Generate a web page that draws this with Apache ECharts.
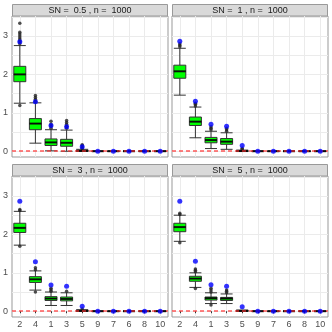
<!DOCTYPE html>
<html>
<head>
<meta charset="utf-8">
<script src="https://cdn.jsdelivr.net/npm/echarts@6/dist/echarts.min.js"></script>
<style>
  html, body { margin: 0; padding: 0; background: #fff; }
  #chart { width: 332px; height: 332px; }
</style>
</head>
<body>
<div id="chart"></div>
<script>
// categories (x order as in the plot)
const categories = ['2', '4', '1', '3', '5', '9', '7', '6', '8', '10']
const panelTitles = [
  'SN =  0.5 , n =  1000',
  'SN =  1 , n =  1000',
  'SN =  3 , n =  1000',
  'SN =  5 , n =  1000'
]
const yLabels = [0, 1, 2, 3]
const yGridValues = [0, 0.5, 1, 1.5, 2, 2.5, 3, 3.5]

// boxes: [lower whisker, Q1, median, Q3, upper whisker]
const boxesSN05 = [
  [1.25, 1.81, 2.0, 2.21, 2.75], [0.21, 0.56, 0.72, 0.85, 1.26], [0.01, 0.15, 0.23, 0.32, 0.56],
  [0.0, 0.13, 0.22, 0.31, 0.55], [0, 0, 0.01, 0.02, 0.05], [0, 0, 0, 0, 0], [0, 0, 0, 0, 0],
  [0, 0, 0, 0, 0], [0, 0, 0, 0, 0], [0, 0, 0, 0, 0]
]
const boxesSN1 = [
  [1.46, 1.9, 2.08, 2.24, 2.68], [0.35, 0.67, 0.77, 0.89, 1.15], [0.07, 0.22, 0.29, 0.36, 0.52],
  [0.05, 0.18, 0.25, 0.33, 0.48], [0, 0, 0.005, 0.01, 0.03], [0, 0, 0, 0, 0], [0, 0, 0, 0, 0],
  [0, 0, 0, 0, 0], [0, 0, 0, 0, 0], [0, 0, 0, 0, 0]
]
const boxesSN3 = [
  [1.72, 2.05, 2.17, 2.29, 2.6], [0.55, 0.75, 0.83, 0.9, 1.05], [0.15, 0.28, 0.33, 0.38, 0.5],
  [0.15, 0.27, 0.32, 0.37, 0.48], [0, 0, 0.01, 0.02, 0.04], [0, 0, 0, 0, 0], [0, 0, 0, 0, 0],
  [0, 0, 0, 0, 0], [0, 0, 0, 0, 0], [0, 0, 0, 0, 0]
]
const boxesSN5 = [
  [1.82, 2.07, 2.19, 2.29, 2.5], [0.62, 0.78, 0.85, 0.91, 1.0], [0.2, 0.29, 0.34, 0.37, 0.48],
  [0.2, 0.28, 0.33, 0.36, 0.45], [0, 0, 0.01, 0.02, 0.03], [0, 0, 0, 0, 0], [0, 0, 0, 0, 0],
  [0, 0, 0, 0, 0], [0, 0, 0, 0, 0], [0, 0, 0, 0, 0]
]

// outliers per category (same order as categories)
const outliersSN05 = [
  [1.19, 2.8, 2.85, 2.9, 2.95, 3.0, 3.05, 3.1, 3.33], [1.3, 1.35, 1.4, 1.45], [0.6, 0.65, 0.7, 0.78],
  [0.6, 0.65, 0.7, 0.75, 0.8], [0.07, 0.1, 0.14, 0.17], [], [], [], [], []
]
const outliersSN1 = [
  [2.72, 2.76, 2.8], [1.18, 1.22, 1.25], [0.56, 0.6, 0.64], [0.52, 0.56, 0.6], [0.05, 0.08],
  [], [], [], [], []
]
const outliersSN3 = [
  [1.69, 2.62, 2.65], [0.5, 1.08, 1.13], [0.52, 0.56, 0.6], [0.52], [0.06], [], [], [], [], []
]
const outliersSN5 = [
  [1.78, 2.52, 2.55], [0.59, 1.03, 1.07, 1.1], [0.16, 0.5, 0.55, 0.6], [0.48, 0.52, 0.55], [],
  [], [], [], [], []
]

// blue points
const blueSN05 = [2.85, 1.29, 0.67, 0.64, 0.12, 0, 0, 0, 0, 0]
const blueSN1 = [2.86, 1.3, 0.7, 0.65, 0.15, 0, 0, 0, 0, 0]
const blueSN3 = [2.86, 1.29, 0.68, 0.65, 0.13, 0, 0, 0, 0, 0]
const blueSN5 = [2.86, 1.3, 0.69, 0.65, 0.12, 0, 0, 0, 0, 0]

const panelBoxes = [boxesSN05, boxesSN1, boxesSN3, boxesSN5]
const panelOutliers = [outliersSN05, outliersSN1, outliersSN3, outliersSN5]
const panelBlue = [blueSN05, blueSN1, blueSN3, blueSN5]

const FONT = 'Liberation Sans, Arial, sans-serif'
const panelPos = [
  { left: 12, top: 16 },
  { left: 172, top: 16 },
  { left: 12, top: 176 },
  { left: 172, top: 176 }
]
const PW = 156
const PH = 141

const chart = echarts.init(document.getElementById('chart'))

const grids = panelPos.map(p => ({
  left: p.left, top: p.top, width: PW, height: PH,
  show: true, backgroundColor: '#fff', borderColor: '#999', borderWidth: 1
}))

const xAxes = panelPos.map((p, i) => {
  const bottom = i >= 2
  return {
    gridIndex: i,
    type: 'category',
    data: categories,
    boundaryGap: true,
    axisLine: { show: false },
    axisTick: { show: bottom, alignWithLabel: true, length: 2, lineStyle: { color: '#333' } },
    axisLabel: { show: bottom, interval: 0, fontSize: 9, color: '#4d4d4d', margin: 3, fontFamily: FONT },
    splitLine: { show: true, alignWithLabel: true, interval: 0, lineStyle: { color: '#ebebeb', width: 1 } }
  }
})

const yAxes = panelPos.map((p, i) => {
  const left = i % 2 === 0
  return {
    gridIndex: i,
    type: 'value',
    min: -0.15,
    max: 3.52,
    splitNumber: 7,
    axisLine: { show: false },
    axisTick: { show: false, customValues: yGridValues },
    axisLabel: { show: left, customValues: yLabels, fontSize: 9, color: '#4d4d4d', margin: 4, fontFamily: FONT },
    splitLine: { show: true, lineStyle: { color: '#ebebeb', width: 1 } }
  }
})

const series = []
panelBoxes.forEach((boxes, i) => {
  // red dashed reference line at zero
  series.push({
    type: 'line', xAxisIndex: i, yAxisIndex: i,
    data: [],
    silent: true,
    markLine: {
      silent: true, symbol: 'none', label: { show: false },
      lineStyle: { color: '#ff3030', opacity: 0.8, type: [4, 3], width: 1.5 },
      data: [{ yAxis: 0 }]
    },
    z: 1
  })
  series.push({
    type: 'boxplot',
    xAxisIndex: i, yAxisIndex: i,
    data: boxes,
    boxWidth: [12, 12],
    itemStyle: { color: '#00ff00', borderColor: '#333', borderWidth: 1 },
    z: 2
  })
  const outPts = []
  panelOutliers[i].forEach((vals, c) => vals.forEach(v => outPts.push([categories[c], v])))
  series.push({
    type: 'scatter', xAxisIndex: i, yAxisIndex: i,
    data: outPts, symbolSize: 3.5,
    itemStyle: { color: '#222' }, z: 3
  })
  series.push({
    type: 'scatter', xAxisIndex: i, yAxisIndex: i,
    data: boxes.map((b, c) => [categories[c], b[2]]),
    symbol: 'rect', symbolSize: [12, 2],
    itemStyle: { color: '#000' }, z: 4
  })
  series.push({
    type: 'scatter', xAxisIndex: i, yAxisIndex: i,
    data: panelBlue[i].map((v, c) => [categories[c], v]),
    symbolSize: 5,
    itemStyle: { color: '#0000ff' }, z: 5
  })
})

const graphic = panelPos.map((p, i) => ({
  type: 'group',
  children: [
    {
      type: 'rect',
      shape: { x: p.left + 0.5, y: p.top - 11.5, width: PW - 1, height: 11.5 },
      style: { fill: '#d9d9d9', stroke: '#999', lineWidth: 1 }
    },
    {
      type: 'text',
      style: {
        text: panelTitles[i], x: p.left + PW / 2, y: p.top - 5.5,
        align: 'center', verticalAlign: 'middle',
        fontSize: 9, fontFamily: FONT, fill: '#1a1a1a'
      }
    }
  ]
}))

chart.setOption({
  animation: false,
  grid: grids,
  xAxis: xAxes,
  yAxis: yAxes,
  series,
  graphic
})
</script>
</body>
</html>
